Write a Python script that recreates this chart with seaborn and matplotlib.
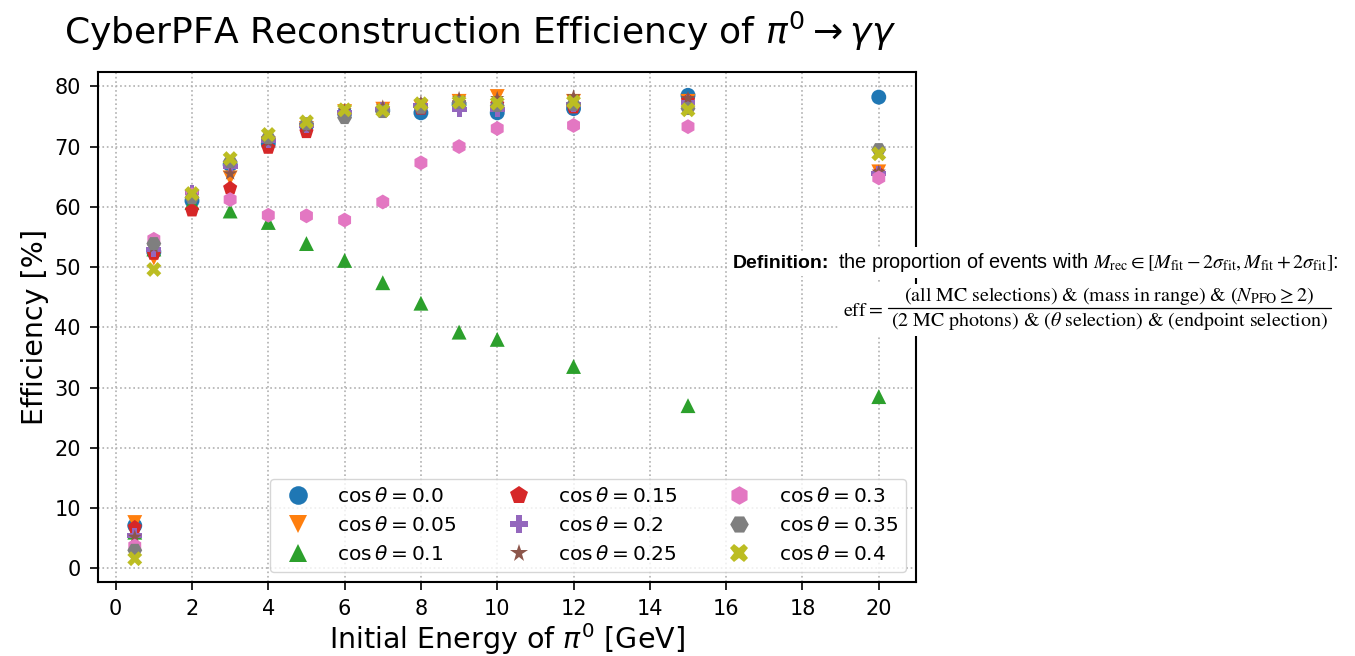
import numpy as np
import pandas as pd
import matplotlib
matplotlib.use("Agg")
import matplotlib.pyplot as plt
from matplotlib.lines import Line2D
import seaborn as sns

energies = [0.5, 1, 2, 3, 4, 5, 6, 7, 8, 9, 10, 12, 15, 20]
cos_labels = ["0.0", "0.05", "0.1", "0.15", "0.2", "0.25", "0.3", "0.35", "0.4"]
eff_00 = [7.1, 52.5, 61.0, 67.0, 70.5, 73.5, 75.5, 76.0, 75.6, 77.0, 75.6, 76.3, 78.5, 78.2]
eff_05 = [7.6, 51.5, 61.5, 64.8, 70.5, 73.0, 75.8, 76.2, 76.5, 77.5, 78.3, 77.5, 77.5, 65.8]
eff_10 = [6.0, 53.0, 60.7, 59.3, 57.4, 53.9, 51.1, 47.4, 44.0, 39.2, 38.0, 33.5, 27.0, 28.5]
eff_15 = [6.8, 52.2, 59.4, 63.1, 69.8, 72.4, 75.3, 76.0, 76.3, 77.2, 77.0, 76.5, 77.6, 65.5]
eff_20 = [5.5, 52.9, 62.3, 66.7, 71.0, 73.5, 75.7, 76.2, 76.8, 76.1, 76.2, 77.0, 77.3, 65.5]
eff_25 = [5.2, 53.3, 61.8, 65.5, 70.8, 73.2, 76.0, 76.6, 77.3, 78.0, 78.0, 78.3, 78.0, 65.8]
eff_30 = [3.7, 54.6, 62.0, 61.2, 58.6, 58.5, 57.8, 60.8, 67.3, 70.0, 73.0, 73.5, 73.3, 64.8]
eff_35 = [3.0, 53.9, 61.5, 67.5, 71.5, 73.8, 74.8, 75.8, 76.5, 77.3, 76.8, 77.0, 76.3, 69.5]
eff_40 = [1.6, 49.6, 62.2, 68.0, 72.0, 74.1, 76.1, 76.0, 77.1, 77.4, 77.2, 77.4, 76.1, 68.8]
series = [eff_00, eff_05, eff_10, eff_15, eff_20, eff_25, eff_30, eff_35, eff_40]
marker_list = ["o", "v", "^", "p", "P", "*", "h", "H", "X"]

names = [r"$\cos\theta = %s$" % c for c in cos_labels]
rows = []
for name, vals in zip(names, series):
    for e, v in zip(energies, vals):
        rows.append({"E": e, "eff": v, "label": name})
df = pd.DataFrame(rows)

sns.set_style("ticks")
plt.rcParams["font.family"] = ["DejaVu Sans"]
plt.rcParams["text.color"] = "black"
plt.rcParams["axes.labelcolor"] = "black"

W, H = 1355, 656
fig = plt.figure(figsize=(W / 100, H / 100), dpi=100)
ax = fig.add_axes([0.072, 0.113, 0.604, 0.777])

palette = dict(zip(names, sns.color_palette("tab10", 9)))
markers = dict(zip(names, marker_list))
sns.scatterplot(data=df, x="E", y="eff", hue="label", style="label",
                palette=palette, markers=markers, s=115, linewidth=0,
                hue_order=names, style_order=names, ax=ax)

ax.set_xticks(np.arange(0, 21, 2))
ax.set_yticks(np.arange(0, 81, 10))
ax.tick_params(labelsize=15, direction="out", length=6, width=1.2, colors="black", pad=6)
ax.grid(True, linestyle=":", color="#b0b0b0", linewidth=1.2)
for sp in ax.spines.values():
    sp.set_color("black")
    sp.set_linewidth(1.5)
ax.set_xlabel(r"Initial Energy of $\pi^0$ [GeV]", fontsize=20.5, labelpad=2)
ax.set_ylabel("Efficiency [%]", fontsize=20.5)
ax.set_title(r"CyberPFA Reconstruction Efficiency of $\pi^0 \rightarrow \gamma\gamma$",
             fontsize=26, loc="left", x=-0.041, pad=20)

leg = ax.legend(loc="lower right", ncol=3, fontsize=14.5, markerscale=1.25,
                frameon=True, handletextpad=0.95, columnspacing=2.1,
                borderpad=0.4, labelspacing=0.5)
leg.get_frame().set_edgecolor("#cccccc")

white = dict(facecolor="white", edgecolor="none", pad=3)
y1 = 1 - 268 / H
t1 = fig.text(733 / W, y1, "Definition:", fontsize=14, fontweight="bold",
              family=["Liberation Sans"], va="baseline", ha="left", bbox=white)
fig.canvas.draw()
r = fig.canvas.get_renderer()
bb = t1.get_window_extent(r)
fig.text((bb.x1 + 9) / W, y1,
         r"the proportion of events with $M_{\rm rec} \in [M_{\rm fit} - 2\sigma_{\rm fit}, M_{\rm fit} + 2\sigma_{\rm fit}]$:",
         fontsize=14.3, family=["Liberation Sans"], math_fontfamily="stix",
         va="baseline", ha="left", bbox=white)

# fraction drawn as numerator / bar / denominator
ybar = 1 - 308 / H
fs = 14.4
teff = fig.text(843 / W, ybar, r"$\mathrm{eff} =$", fontsize=fs, math_fontfamily="stix",
                va="center_baseline", ha="left")
num_s = r"$(\mathrm{all\ MC\ selections})\ &\ (\mathrm{mass\ in\ range})\ &\ (N_{\mathrm{PFO}} \geq 2)$"
den_s = r"$(2\ \mathrm{MC\ photons})\ &\ (\theta\ \mathrm{selection})\ &\ (\mathrm{endpoint\ selection})$"
tnum = fig.text(0, 0, num_s, fontsize=fs, math_fontfamily="stix", va="center", ha="center")
tden = fig.text(0, 0, den_s, fontsize=fs, math_fontfamily="stix", va="center", ha="center")
fig.canvas.draw()
be = teff.get_window_extent(r)
wn = tnum.get_window_extent(r).width
wd = tden.get_window_extent(r).width
wmax = max(wn, wd) + 6
x0 = be.x1 + 5
xc = x0 + wmax / 2
tnum.set_position((xc / W, 1 - 296 / H))
tden.set_position((xc / W, 1 - 321 / H))
fig.patches.append(plt.Rectangle((be.x0 - 4, H - 336), x0 + wmax - be.x0 + 8, 52,
                                 transform=None, facecolor="white", edgecolor="none",
                                 zorder=2.5, figure=fig))
for t in (teff, tnum, tden):
    t.set_zorder(3)
fig.add_artist(Line2D([x0, x0 + wmax], [H - 308, H - 308], transform=None,
                      color="black", linewidth=0.9, zorder=3))

fig.savefig("out.png", dpi=100)
